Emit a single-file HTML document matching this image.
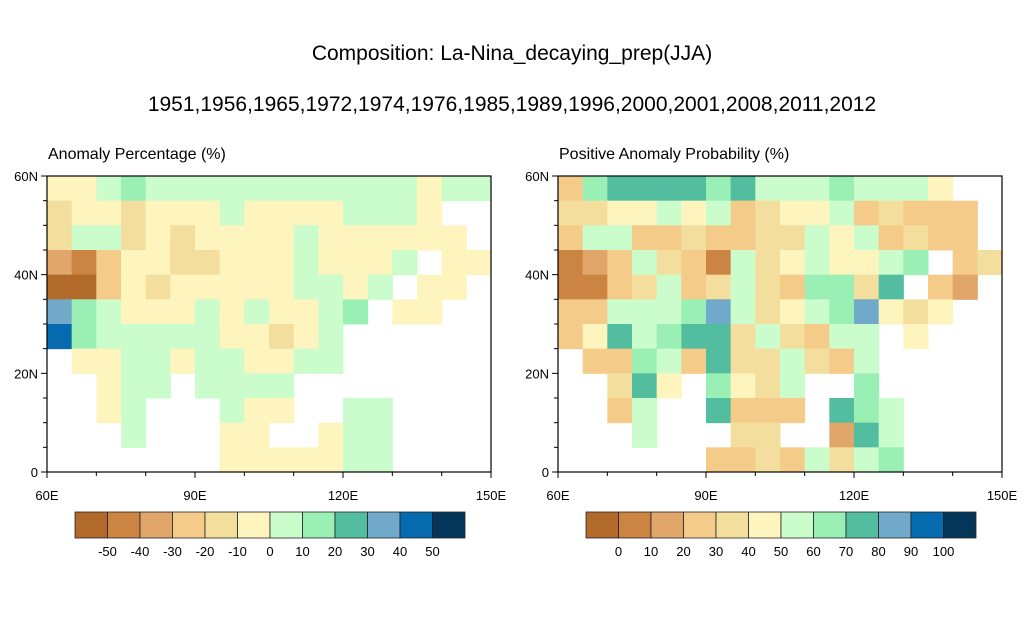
<!DOCTYPE html>
<html><head><meta charset="utf-8"><style>
body{margin:0;background:#fff;font-family:"Liberation Sans",sans-serif}
svg{display:block}
</style></head><body>
<svg id="chart" width="1024" height="624" xmlns="http://www.w3.org/2000/svg">
<text x="512" y="60" text-anchor="middle" font-size="21">Composition: La-Nina_decaying_prep(JJA)</text>
<text x="512" y="111" text-anchor="middle" font-size="21">1951,1956,1965,1972,1974,1976,1985,1989,1996,2000,2001,2008,2011,2012</text>
<text x="48" y="159" font-size="16">Anomaly Percentage (%)</text>
<text x="559" y="159" font-size="16">Positive Anomaly Probability (%)</text>
<g id="left"></g><g id="right"></g>
</svg>
<script>
const colors=["#B26A2B","#CC8442","#E0A66A","#F4CB88","#F3DE9D","#FEF4BE","#CBFCCB","#9AEFB5","#53BD9F","#70A9C9","#066BAE","#04365A"];
const lonTicks=[60,90,120,150];
const lonLabels=["60E","90E","120E","150E"];
const latTicks=[60,40,20,0];
const latLabels=["60N","40N","20N","0"];
const leftBarLabels=["-50","-40","-30","-20","-10","0","10","20","30","40","50"];
const rightBarLabels=["0","10","20","30","40","50","60","70","80","90","100"];
// 5-degree grid rows from 60N down to 0, columns 60E..150E; '.' = missing; hex digit = colour level
const leftGrid=[
"556766666666666566",
"4554555655556665..",
"46645455556555555.",
"213554455565556.55",
"00354555556656.55.",
"9765556565567.55..",
"a76666655456......",
".55665665566......",
"..566.6666........",
"..56...655..66....",
"...6...55..566....",
".......5555566...."
];
const rightGrid=[
"3788887866676665..",
"44556563455634333.",
"36633433446563433.",
"123643164565567.34",
"11346346437748.32.",
"3366679645679545..",
"3586788464366.5...",
".337638446436.....",
"..485.7546..7.....",
"..36..8333.876....",
"...6...44..286....",
"......33436467...."
];
const NS="http://www.w3.org/2000/svg";
function mk(tag,attrs,parent){const e=document.createElementNS(NS,tag);for(const k in attrs)e.setAttribute(k,attrs[k]);parent.appendChild(e);return e;}
function panel(g,x0,grid,barX,barLabels,nm){
  const y0=176,W=444,H=296;
  const xs=lon=>x0+(lon-60)/90*W, ys=lat=>y0+(60-lat)/60*H;
  grid.forEach((row,r)=>{for(let c=0;c<18;c++){const ch=row[c];if(!ch||ch==='.')continue;
    const v=parseInt(ch,16);
    const rc=mk('rect',{x:xs(60+c*5),y:ys(60-r*5),width:W/18+0.5,height:H/12+0.5,fill:colors[v]},g);
    
    }});
  const fr=mk('rect',{x:x0,y:y0,width:W,height:H,fill:'none',stroke:'#000','stroke-width':1.2},g);
  
  
  for(let l=60;l<=150;l+=10){const big=(l%30===0);mk('line',{x1:xs(l),x2:xs(l),y1:y0+H,y2:y0+H+(big?6:4),stroke:'#000'},g);}
  for(let l=0;l<=60;l+=5){const big=(l%20===0);mk('line',{x1:x0,x2:x0-(big?6:4),y1:ys(l),y2:ys(l),stroke:'#000'},g);}
  lonTicks.forEach((l,i)=>{const t=mk('text',{x:xs(l),y:y0+H+28,'text-anchor':'middle','font-size':13},g);t.textContent=lonLabels[i];
    });
  latTicks.forEach((l,i)=>{const t=mk('text',{x:x0-9,y:ys(l)+5,'text-anchor':'end','font-size':13},g);t.textContent=latLabels[i];
    });
  const bw=390/12;
  colors.forEach((c,i)=>{const r=mk('rect',{x:barX+i*bw,y:512,width:bw,height:26,fill:c,stroke:'#222','stroke-width':0.8},g);
    });
  barLabels.forEach((s,i)=>{const t=mk('text',{x:barX+(i+1)*bw,y:556,'text-anchor':'middle','font-size':13},g);t.textContent=s;
    });
}
panel(document.getElementById('left'),47,leftGrid,75,leftBarLabels,'left');
panel(document.getElementById('right'),558,rightGrid,586,rightBarLabels,'right');
</script>
</body></html>
